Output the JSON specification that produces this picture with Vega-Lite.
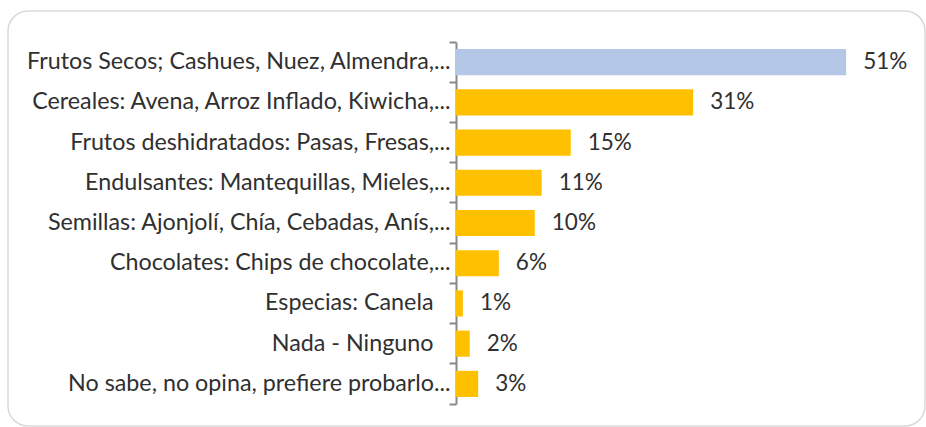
{
  "$schema": "https://vega.github.io/schema/vega-lite/v6.json",
  "autosize": {"type": "none"},
  "padding": {"left": 8, "top": 11, "right": 1, "bottom": 1},
  "width": 917,
  "height": 415,
  "background": "white",
  "config": {
    "view": {"stroke": "#D9D9D9", "strokeWidth": 1.5, "cornerRadius": 20},
    "font": "Lato"
  },
  "data": {
    "values": [
      {"categoria": "Frutos Secos; Cashues, Nuez, Almendra,...", "pct": 51.0},
      {"categoria": "Cereales: Avena, Arroz Inflado, Kiwicha,...", "pct": 31.0},
      {"categoria": "Frutos deshidratados: Pasas, Fresas,...", "pct": 15.0},
      {"categoria": "Endulsantes: Mantequillas, Mieles,...", "pct": 11.2},
      {"categoria": "Semillas: Ajonjolí, Chía, Cebadas, Anís,...", "pct": 10.3},
      {"categoria": "Chocolates: Chips de chocolate,...", "pct": 5.6},
      {"categoria": "Especias: Canela", "pct": 0.9},
      {"categoria": "Nada - Ninguno", "pct": 1.8},
      {"categoria": "No sabe, no opina, prefiere probarlo...", "pct": 2.9}
    ]
  },
  "encoding": {
    "y": {
      "field": "categoria",
      "type": "nominal",
      "sort": null,
      "scale": {"range": [31, 393], "paddingInner": 0, "paddingOuter": 0},
      "axis": {
        "title": null,
        "orient": "left",
        "offset": -448,
        "domainColor": "#898989",
        "domainWidth": 2,
        "tickColor": "#898989",
        "tickWidth": 2,
        "tickSize": 7,
        "bandPosition": 1,
        "tickExtra": true,
        "labelPadding": {
          "condition": {"test": "indexof(datum.label, '...') < 0", "value": 16},
          "value": -1
        },
        "labelFontSize": 23.3,
        "labelColor": "#303030",
        "labelLimit": 600
      }
    },
    "x": {
      "field": "pct",
      "type": "quantitative",
      "scale": {"domain": [0, 60], "range": [448, 907], "nice": false, "zero": true},
      "axis": null
    }
  },
  "layer": [
    {
      "mark": {"type": "bar", "height": {"band": 0.65}},
      "encoding": {
        "color": {
          "condition": {"test": "datum.pct > 50", "value": "#B4C7E7"},
          "value": "#FFC000"
        }
      }
    },
    {
      "transform": [{"calculate": "format(datum.pct, '.0f') + '%'", "as": "etiqueta"}],
      "mark": {"type": "text", "align": "left", "baseline": "middle", "dx": 17, "fontSize": 22.5, "color": "#303030"},
      "encoding": {
        "text": {"field": "etiqueta", "type": "nominal"}
      }
    }
  ]
}
